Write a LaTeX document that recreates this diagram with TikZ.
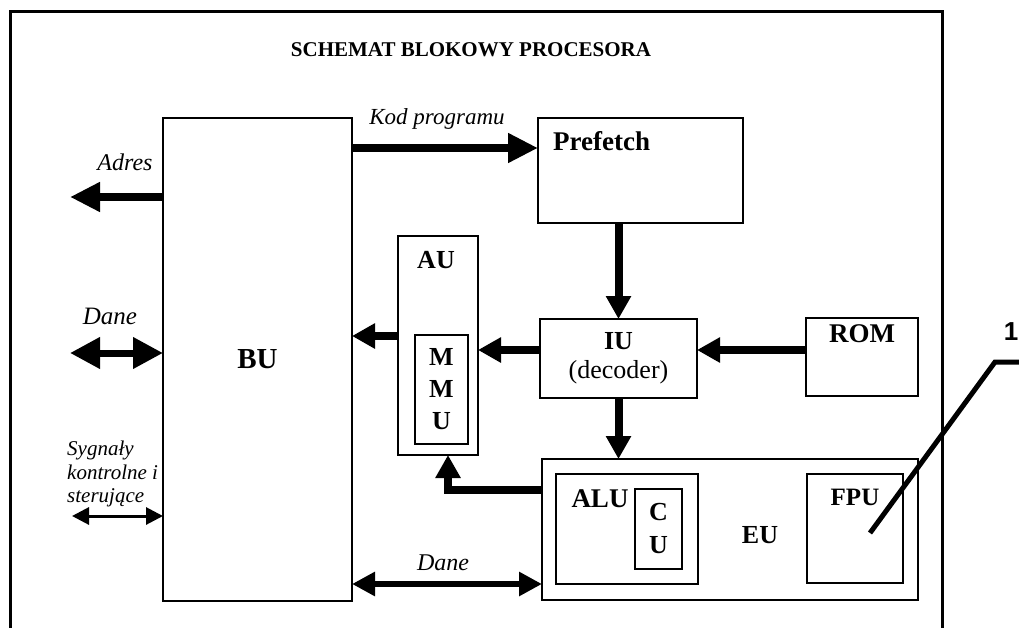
\documentclass[tikz,border=0pt]{standalone}
\usepackage{fontspec}
\setmainfont{Liberation Serif}
\newfontfamily\numfont{Liberation Sans}
\usetikzlibrary{arrows.meta}
\newcommand\myfs[2]{\fontsize{#1}{#2}\selectfont}
\begin{document}
\begin{tikzpicture}[x=1pt,y=-1pt,
  blk/.style={draw, line width=1.5pt, inner sep=0pt, outer sep=0pt},
  frm/.style={line width=3pt},
  bigarr/.style={line width=8pt, -{Triangle[length=30pt,width=28pt]}},
  bigdbl/.style={line width=7pt, {Triangle[length=30pt,width=30pt]}-{Triangle[length=30pt,width=30pt]}},
  midarr/.style={line width=8pt, -{Triangle[length=23pt,width=24pt]}},
  middbl/.style={line width=6pt, {Triangle[length=23pt,width=23pt]}-{Triangle[length=23pt,width=23pt]}},
  thindbl/.style={line width=3pt, {Triangle[length=17pt,width=17pt]}-{Triangle[length=17pt,width=17pt]}},
  lead/.style={line width=5pt},
  bold/.style={font=\bfseries\myfs{26}{32}, inner sep=0pt},
  ital/.style={font=\itshape\myfs{23}{26}, inner sep=0pt}]
\useasboundingbox (0,0) rectangle (1019,628);
% frame
\draw[frm] (10,628) -- (10,12) -- (942,12) -- (942,628);
\node[font=\bfseries\myfs{21}{25}] (title) at (471,50) {SCHEMAT BLOKOWY PROCESORA};
% boxes
\node[blk, minimum width=189pt, minimum height=483pt, font=\bfseries\myfs{29}{34}] (BU) at (257.5,359.5) {BU};
\node[blk, minimum width=205pt, minimum height=105pt] (PF) at (640.5,170.5) {};
\node[font=\bfseries\myfs{27}{30}, inner sep=0pt, anchor=west] (PFt) at (553,141) {Prefetch};
\node[blk, minimum width=80pt, minimum height=219pt] (AU) at (438,345.5) {};
\node[bold] (AUt) at (436,260) {AU};
\node[blk, minimum width=53pt, minimum height=109pt, align=center, font=\bfseries\myfs{26}{32}] (MMU) at (441.5,389.5) {M\\M\\U};
\node[blk, minimum width=157pt, minimum height=79pt, align=center, font=\myfs{26}{29}] (IU) at (618.5,358.5) {\textbf{IU}\\(decoder)};
\node[blk, minimum width=112pt, minimum height=78pt] (ROM) at (862,357) {};
\node[font=\bfseries\myfs{27}{30}, inner sep=0pt] (ROMt) at (862,334) {ROM};
\node[blk, minimum width=376pt, minimum height=141pt] (EU) at (730,529.5) {};
\node[bold] (EUt) at (760,535) {EU};
\node[blk, minimum width=142pt, minimum height=110pt] (ALU) at (627,529) {};
\node[font=\bfseries\myfs{27}{30}, inner sep=0pt] (ALUt) at (600,499) {ALU};
\node[blk, minimum width=47pt, minimum height=80pt, align=center, font=\bfseries\myfs{26}{33}] (CU) at (658.5,529) {C\\U};
\node[blk, minimum width=96pt, minimum height=109pt] (FPU) at (855,528.5) {};
\node[font=\bfseries\myfs{25}{28}, inner sep=0pt] (FPUt) at (855,497) {FPU};
% labels
\node[ital] (kod) at (437,119) {Kod programu};
\node[font=\itshape\myfs{24}{26}, inner sep=0pt] (adres) at (125,162) {Adres};
\node[font=\itshape\myfs{25}{27}, inner sep=0pt] (dane1) at (110,316) {Dane};
\node[font=\itshape\myfs{21}{23.5}, inner sep=0pt, align=left, anchor=north west] (syg) at (67,441) {Sygnały\\kontrolne i\\sterujące};
\node[font=\itshape\myfs{24}{26}, inner sep=0pt] (dane2) at (443,563) {Dane};
\node[font=\bfseries\numfont\myfs{26}{28}, inner sep=0pt] (one) at (1011,332) {1};
% connectors
\coordinate (adresEnd) at (70,197);
\coordinate (daneEnd) at (70,353);
\coordinate (sygEnd) at (72,516);
\draw[bigarr] (BU.west |- adresEnd) -- (adresEnd);
\draw[bigdbl] (daneEnd) -- (BU.west |- daneEnd);
\draw[thindbl] (sygEnd) -- (BU.west |- sygEnd);
\draw[bigarr] (BU.east |- 0,148) -- (PF.west |- 0,148);
\draw[midarr] (IU.north |- PF.south) -- (IU.north);
\draw[midarr] (IU.west |- 0,350) -- (AU.east |- 0,350);
\draw[midarr] (ROM.west |- 0,350) -- (IU.east |- 0,350);
\draw[midarr] (AU.west |- 0,336) -- (BU.east |- 0,336);
\draw[midarr] (IU.south) -- (EU.north -| IU.south);
\draw[midarr] (EU.west |- 0,490) -| ([xshift=10pt]AU.south);
\draw[middbl] (BU.east |- 0,584) -- (EU.west |- 0,584);
\coordinate (leadTip) at (870,533);
\coordinate (leadEnd) at (1019,362);
\draw[lead, line join=miter] (leadEnd) -- (995,362) -- (leadTip);
\end{tikzpicture}
\end{document}
